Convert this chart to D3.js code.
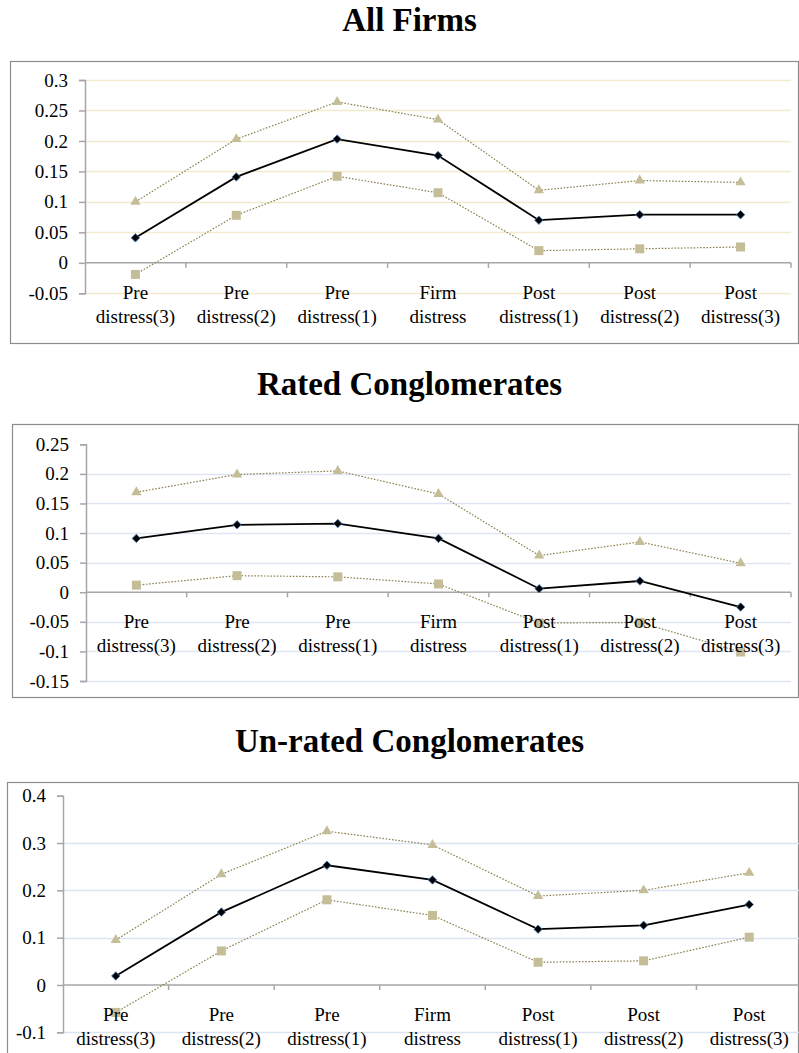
<!DOCTYPE html>
<html>
<head>
<meta charset="utf-8">
<script src="https://cdn.jsdelivr.net/npm/d3@7"></script>
<style>
  body { margin: 0; background: #fff; }
  svg text { font-family: "Liberation Serif", "Times New Roman", serif; fill: #000; }
</style>
</head>
<body>
<div id="main"></div>
<script>
// categories along the x axis (two text lines each)
var categories = [
  ["Pre", "distress(3)"], ["Pre", "distress(2)"], ["Pre", "distress(1)"],
  ["Firm", "distress"],
  ["Post", "distress(1)"], ["Post", "distress(2)"], ["Post", "distress(3)"]
]

// All Firms
var allUpper = [0.100, 0.203, 0.264, 0.235, 0.119, 0.135, 0.132]
var allMean  = [0.041, 0.141, 0.203, 0.176, 0.070, 0.079, 0.079]
var allLower = [-0.019, 0.078, 0.142, 0.115, 0.020, 0.023, 0.026]
var allTicks = [-0.05, 0, 0.05, 0.1, 0.15, 0.2, 0.25, 0.3]

// Rated Conglomerates
var ratedUpper = [0.169, 0.199, 0.205, 0.166, 0.062, 0.085, 0.049]
var ratedMean  = [0.091, 0.114, 0.116, 0.091, 0.006, 0.019, -0.025]
var ratedLower = [0.012, 0.028, 0.026, 0.014, -0.052, -0.051, -0.101]
var ratedTicks = [-0.15, -0.1, -0.05, 0, 0.05, 0.1, 0.15, 0.2, 0.25]

// Un-rated Conglomerates
var unratedUpper = [0.095, 0.234, 0.325, 0.296, 0.188, 0.200, 0.237]
var unratedMean  = [0.019, 0.154, 0.253, 0.222, 0.118, 0.126, 0.170]
var unratedLower = [-0.058, 0.072, 0.180, 0.147, 0.048, 0.051, 0.101]
var unratedTicks = [-0.1, 0, 0.1, 0.2, 0.3, 0.4]

var W = 799, H = 1053

var svg = d3.select("#main").append("svg")
  .attr("width", W)
  .attr("height", H)

var panels = [
  { title: "All Firms", titleY: 31, box: [10, 61, 798, 343], plot: [85, 80, 791, 293.3],
    ticks: allTicks, upper: allUpper, mean: allMean, lower: allLower, grid: "#f3ebd0", topGrid: true },
  { title: "Rated Conglomerates", titleY: 395, box: [12, 424, 798, 697], plot: [86, 444.3, 791, 681],
    ticks: ratedTicks, upper: ratedUpper, mean: ratedMean, lower: ratedLower, grid: "#dfe5f4", topGrid: false },
  { title: "Un-rated Conglomerates", titleY: 752, box: [7, 782, 798, 1070], plot: [63, 795.7, 802, 1032.3],
    ticks: unratedTicks, upper: unratedUpper, mean: unratedMean, lower: unratedLower, grid: "#dbe4f2", topGrid: false }
]

// plain hyphen for negatives, like the original
var fmt = function(d) { return String(+d.toFixed(2)) }

panels.forEach(function(p) {
  var g = svg.append("g")

  g.append("text")
    .attr("x", 409.5)
    .attr("y", p.titleY)
    .attr("text-anchor", "middle")
    .attr("font-size", "33px")
    .attr("font-weight", "bold")
    .text(p.title)

  g.append("rect")
    .attr("x", p.box[0] + 0.5)
    .attr("y", p.box[1] + 0.5)
    .attr("width", p.box[2] - p.box[0])
    .attr("height", p.box[3] - p.box[1])
    .attr("fill", "none")
    .attr("stroke", "#8c8c8c")
    .attr("stroke-width", 1.2)

  var left = p.plot[0], top = p.plot[1], right = p.plot[2], bottom = p.plot[3]

  var y = d3.scaleLinear()
    .domain([p.ticks[0], p.ticks[p.ticks.length - 1]])
    .range([bottom, top])

  var x = d3.scaleBand()
    .domain(d3.range(categories.length))
    .range([left, right])

  var cx = function(i) { return x(i) + x.bandwidth() / 2 }

  // gridlines
  var gridTicks = p.ticks.filter(function(t, i) {
    return t !== 0 && (p.topGrid || i < p.ticks.length - 1)
  })
  g.selectAll(".grid")
    .data(gridTicks)
    .enter().append("line")
    .attr("x1", left)
    .attr("x2", right)
    .attr("y1", function(d) { return Math.round(y(d)) + 0.5 })
    .attr("y2", function(d) { return Math.round(y(d)) + 0.5 })
    .attr("stroke", p.grid)
    .attr("stroke-width", 1.5)

  // y axis
  var yAxis = d3.axisLeft(y)
    .tickValues(p.ticks)
    .tickSize(6)
    .tickPadding(11)
    .tickFormat(fmt)
  var ya = g.append("g")
    .attr("transform", "translate(" + left + ",0)")
    .call(yAxis)
  ya.attr("font-family", null)
  ya.selectAll("path, line").attr("stroke", "#a6a6a6").attr("stroke-width", 1.5)
  ya.selectAll("text").attr("font-size", "19px")

  // x axis line at zero with ticks on band edges
  var edges = d3.range(categories.length + 1).map(function(i) { return left + i * x.step() })
  var y0 = y(0)
  g.append("line")
    .attr("x1", left).attr("x2", right)
    .attr("y1", y0).attr("y2", y0)
    .attr("stroke", "#a6a6a6")
    .attr("stroke-width", 1.5)
  g.selectAll(".xtick")
    .data(edges.slice(1))
    .enter().append("line")
    .attr("x1", function(d) { return d }).attr("x2", function(d) { return d })
    .attr("y1", y0).attr("y2", y0 + 5)
    .attr("stroke", "#a6a6a6")
    .attr("stroke-width", 1.5)

  // series
  var line = d3.line()
    .x(function(d, i) { return cx(i) })
    .y(function(d) { return y(d) })

  ;[p.upper, p.lower].forEach(function(s) {
    g.append("path")
      .attr("d", line(s))
      .attr("fill", "none")
      .attr("stroke", "#8c8250")
      .attr("stroke-width", 1.2)
      .attr("stroke-dasharray", "1.6,1.6")
  })

  g.selectAll(".tri")
    .data(p.upper)
    .enter().append("path")
    .attr("d", d3.symbol().type(d3.symbolTriangle).size(46))
    .attr("transform", function(d, i) { return "translate(" + cx(i) + "," + y(d) + ")" })
    .attr("fill", "#c4bd97")

  g.selectAll(".sq")
    .data(p.lower)
    .enter().append("rect")
    .attr("x", function(d, i) { return cx(i) - 4.5 })
    .attr("y", function(d) { return y(d) - 4.5 })
    .attr("width", 9)
    .attr("height", 9)
    .attr("fill", "#c4bd97")

  g.append("path")
    .attr("d", line(p.mean))
    .attr("fill", "none")
    .attr("stroke", "#000")
    .attr("stroke-width", 1.8)

  g.selectAll(".dia")
    .data(p.mean)
    .enter().append("rect")
    .attr("x", -3)
    .attr("y", -3)
    .attr("width", 6)
    .attr("height", 6)
    .attr("transform", function(d, i) { return "translate(" + cx(i) + "," + y(d) + ") rotate(45)" })
    .attr("fill", "#000")
    .attr("stroke", "#4f81bd")
    .attr("stroke-width", 0.8)

  // category labels
  var lab = g.selectAll(".cat")
    .data(categories)
    .enter().append("text")
    .attr("text-anchor", "middle")
    .attr("font-size", "19px")
  lab.append("tspan")
    .attr("x", function(d, i) { return cx(i) })
    .attr("y", y0 + 36)
    .text(function(d) { return d[0] })
  lab.append("tspan")
    .attr("x", function(d, i) { return cx(i) })
    .attr("y", y0 + 60)
    .text(function(d) { return d[1] })
})
</script>
</body>
</html>
